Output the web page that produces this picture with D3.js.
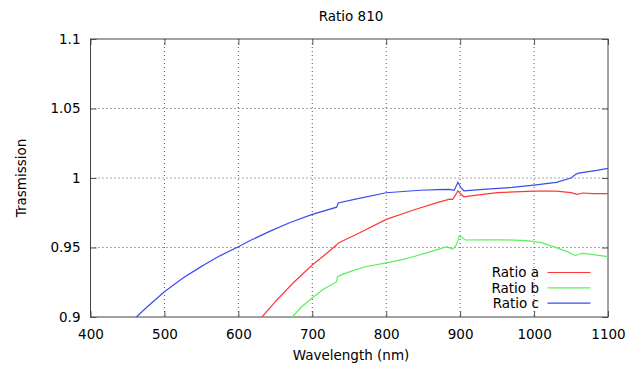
<!DOCTYPE html>
<html>
<head>
<meta charset="utf-8">
<script src="https://cdn.jsdelivr.net/npm/d3@7"></script>
<style>
  body { margin: 0; background: #fff; }
  text { font-family: 'DejaVu Sans', sans-serif; font-size: 13.5px; fill: #000; }
</style>
</head>
<body>
<div id="chart"></div>
<script>
// wavelength (nm) and transmission ratio
let wlA = [625, 632, 650, 675, 700, 720, 733, 736, 760, 800, 840, 870, 886, 890, 894, 897, 900, 905, 920, 950, 1000, 1030, 1050, 1058, 1066, 1080, 1100]
let ratioA = [0.896, 0.9, 0.911, 0.925, 0.9374, 0.946, 0.952, 0.9535, 0.9595, 0.9702, 0.9775, 0.9825, 0.9848, 0.9847, 0.988, 0.9908, 0.989, 0.9865, 0.9875, 0.9895, 0.9905, 0.9905, 0.9895, 0.9882, 0.9892, 0.9888, 0.9887]

let wlB = [668, 673, 685, 700, 715, 733, 734, 740, 751, 770, 800, 823, 840, 860, 882, 890, 895, 899, 903, 907, 930, 960, 990, 1010, 1026, 1045, 1056, 1062, 1067, 1085, 1100]
let ratioB = [0.897, 0.9, 0.907, 0.9139, 0.92, 0.9254, 0.929, 0.9305, 0.9326, 0.936, 0.939, 0.9415, 0.9439, 0.947, 0.9506, 0.9487, 0.952, 0.9585, 0.957, 0.9554, 0.9555, 0.9555, 0.955, 0.9535, 0.9506, 0.947, 0.9441, 0.9455, 0.9458, 0.9445, 0.9434]

let wlC = [455, 462, 475, 500, 525, 548, 555, 575, 600, 616, 643, 670, 700, 733, 735, 760, 800, 846, 870, 886, 892, 897, 901, 905, 936, 970, 1000, 1030, 1050, 1056, 1060, 1067, 1085, 1100]
let ratioC = [0.8965, 0.9, 0.9065, 0.9182, 0.928, 0.9357, 0.938, 0.944, 0.9506, 0.955, 0.9618, 0.968, 0.9738, 0.979, 0.982, 0.985, 0.9894, 0.9912, 0.9917, 0.9918, 0.9912, 0.9969, 0.993, 0.9908, 0.992, 0.9932, 0.9949, 0.9969, 1.0, 1.0025, 1.0035, 1.004, 1.0055, 1.007]

let seriesNames = ['Ratio a', 'Ratio b', 'Ratio c']
let xTicks = [400, 500, 600, 700, 800, 900, 1000, 1100]
let yTicks = [0.9, 0.95, 1, 1.05, 1.1]

let margin = { top: 39, left: 90.5, right: 34, bottom: 51 }
let width = 642 - margin.left - margin.right
let height = 368 - margin.top - margin.bottom

let root = d3
  .select('#chart')
  .append('svg')
  .attr('width', 642)
  .attr('height', 368)

let svg = root
  .append('g')
  .attr('transform', 'translate(' + margin.left + ',' + margin.top + ')')

let xPositionScale = d3.scaleLinear().domain([400, 1100]).range([0, width])
let yPositionScale = d3.scaleLinear().domain([0.9, 1.1]).range([height, 0])

let colorScale = d3
  .scaleOrdinal()
  .domain(seriesNames)
  .range(['#ff3838', '#5cf05c', '#3a4cf0'])

let series = [
  { name: 'Ratio a', values: wlA.map((w, i) => ({ wl: w, v: ratioA[i] })) },
  { name: 'Ratio b', values: wlB.map((w, i) => ({ wl: w, v: ratioB[i] })) },
  { name: 'Ratio c', values: wlC.map((w, i) => ({ wl: w, v: ratioC[i] })) }
]

// grid
svg
  .selectAll('.vgrid')
  .data(xTicks.slice(1, -1))
  .enter()
  .append('line')
  .attr('x1', d => xPositionScale(d))
  .attr('x2', d => xPositionScale(d))
  .attr('y1', 0)
  .attr('y2', height)
  .attr('stroke', '#555')
  .attr('stroke-width', 1)
  .attr('stroke-dasharray', '1,3')

svg
  .selectAll('.hgrid')
  .data(yTicks.slice(1, -1))
  .enter()
  .append('line')
  .attr('x1', 0)
  .attr('x2', width)
  .attr('y1', d => yPositionScale(d))
  .attr('y2', d => yPositionScale(d))
  .attr('stroke', '#555')
  .attr('stroke-width', 1)
  .attr('stroke-dasharray', '1,3')

// axes: ticks point inward, mirrored on all sides
let xAxis = d3.axisBottom(xPositionScale).tickValues(xTicks).tickSize(-6).tickPadding(12).tickFormat(d3.format('d'))
let xAxisTop = d3.axisTop(xPositionScale).tickValues(xTicks).tickSize(-6).tickFormat('')
let yAxis = d3.axisLeft(yPositionScale).tickValues(yTicks).tickSize(-6).tickPadding(10).tickFormat(d => d)
let yAxisRight = d3.axisRight(yPositionScale).tickValues(yTicks).tickSize(-6).tickFormat('')

svg.append('g').attr('class', 'axis x-axis').attr('transform', 'translate(0,' + height + ')').call(xAxis)
svg.append('g').attr('class', 'axis').call(xAxisTop)
svg.append('g').attr('class', 'axis y-axis').call(yAxis)
svg.append('g').attr('class', 'axis').attr('transform', 'translate(' + width + ',0)').call(yAxisRight)

svg.selectAll('.axis path').remove()
svg.selectAll('.axis line').attr('stroke', '#555')
svg.selectAll('.axis text').attr('font-size', 13.5).attr('font-family', 'DejaVu Sans, sans-serif')

svg
  .append('rect')
  .attr('x', 0)
  .attr('y', 0)
  .attr('width', width)
  .attr('height', height)
  .attr('fill', 'none')
  .attr('stroke', '#444')
  .attr('stroke-width', 1)

svg
  .append('clipPath')
  .attr('id', 'clip')
  .append('rect')
  .attr('width', width)
  .attr('height', height)

let line = d3
  .line()
  .x(d => xPositionScale(d.wl))
  .y(d => yPositionScale(d.v))

svg
  .append('g')
  .attr('clip-path', 'url(#clip)')
  .selectAll('path')
  .data(series)
  .enter()
  .append('path')
  .attr('d', d => line(d.values))
  .attr('stroke', d => colorScale(d.name))
  .attr('stroke-width', 1.2)
  .attr('fill', 'none')

// legend
let legend = svg
  .selectAll('.legend')
  .data(seriesNames)
  .enter()
  .append('g')
  .attr('transform', (d, i) => 'translate(0,' + (233.5 + i * 15.3) + ')')

legend
  .append('text')
  .attr('x', 448.5)
  .attr('dy', '0.35em')
  .attr('text-anchor', 'end')
  .text(d => d)

legend
  .append('line')
  .attr('x1', 457)
  .attr('x2', 500)
  .attr('stroke', d => colorScale(d))
  .attr('stroke-width', 1.2)

// titles
root
  .append('text')
  .attr('x', 351)
  .attr('y', 21)
  .attr('text-anchor', 'middle')
  .text('Ratio 810')

root
  .append('text')
  .attr('x', 351)
  .attr('y', 360)
  .attr('text-anchor', 'middle')
  .text('Wavelength (nm)')

root
  .append('text')
  .attr('transform', 'translate(26,178) rotate(-90)')
  .attr('text-anchor', 'middle')
  .text('Trasmission')
</script>
</body>
</html>
